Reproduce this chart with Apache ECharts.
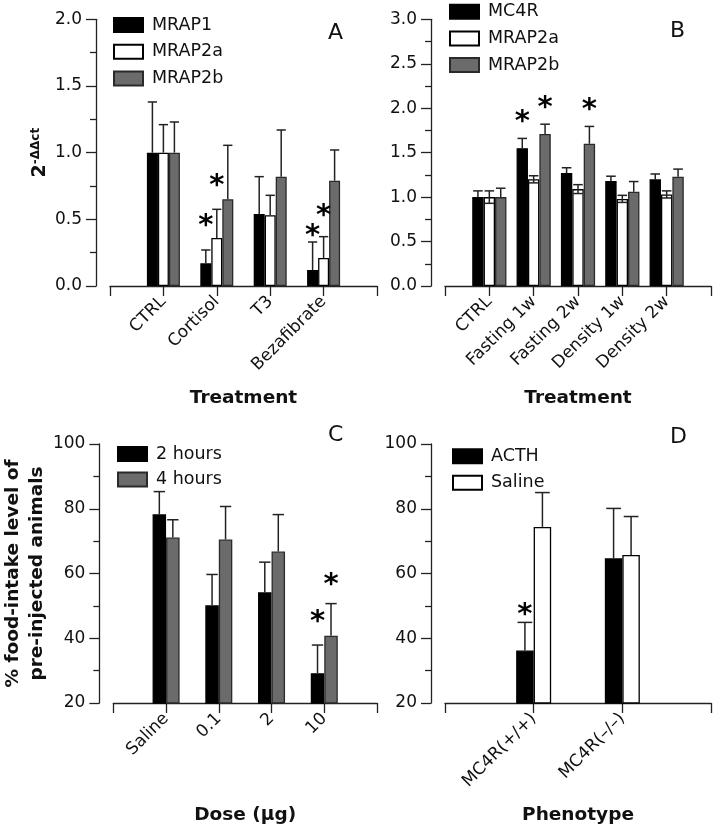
<!DOCTYPE html>
<html>
<head>
<meta charset="utf-8">
<script src="https://cdn.jsdelivr.net/npm/echarts@6/dist/echarts.min.js"></script>
<style>
html,body{margin:0;padding:0;background:#fff;}
#chart{width:714px;height:826px;}
</style>
</head>
<body>
<div id="chart"></div>
<script>
// ---------- Data ----------
// Panel A
const catsA = ['CTRL', 'Cortisol', 'T3', 'Bezafibrate'];
const mrap1A = [1.00, 0.17, 0.54, 0.12];
const mrap1AErr = [0.38, 0.10, 0.28, 0.21];
const mrap2aA = [1.00, 0.36, 0.53, 0.21];
const mrap2aAErr = [0.21, 0.215, 0.15, 0.16];
const mrap2bA = [1.00, 0.65, 0.82, 0.79];
const mrap2bAErr = [0.23, 0.405, 0.35, 0.23];
const mrap1AStars = [null, 0.495, null, 0.42];
const mrap2aAStars = [null, 0.795, null, 0.57];
const yTicksA = [0, 0.5, 1.0, 1.5, 2.0];

// Panel B
const catsB = ['CTRL', 'Fasting 1w', 'Fasting 2w', 'Density 1w', 'Density 2w'];
const mc4rB = [1.00, 1.55, 1.27, 1.18, 1.20];
const mc4rBErr = [0.07, 0.11, 0.06, 0.055, 0.06];
const mrap2aB = [1.00, 1.20, 1.09, 0.98, 1.03];
const mrap2aBErr = [0.07, 0.04, 0.05, 0.04, 0.04];
const mrap2bB = [1.00, 1.71, 1.60, 1.06, 1.23];
const mrap2bBErr = [0.10, 0.11, 0.195, 0.115, 0.085];
const mc4rBStars = [null, 1.905, null, null, null];
const mrap2bBStars = [null, 2.07, 2.04, null, null];
const yTicksB = [0, 0.5, 1.0, 1.5, 2.0, 2.5, 3.0];

// Panel C
const catsC = ['Saline', '0.1', '2', '10'];
const hours2C = [78.3, 50.2, 54.2, 29.2];
const hours2CErr = [7.0, 9.5, 9.3, 8.7];
const hours4C = [71.1, 70.5, 66.8, 40.8];
const hours4CErr = [5.5, 10.2, 11.4, 9.9];
const hours2CStars = [null, null, null, 46.7];
const hours4CStars = [null, null, null, 58.2];

// Panel D
const catsD = ['MC4R(+/+)', 'MC4R(–/–)'];
const acthD = [36.2, 64.7];
const acthDErr = [8.7, 15.4];
const salineD = [74.4, 65.7];
const salineDErr = [10.6, 11.9];
const acthDStars = [48.9, null];
const yTicksCD = [20, 40, 60, 80, 100];

// ---------- Styles ----------
const FONT = 'DejaVu Sans';
const TXT = '#111111';
const BLACK = {color: '#000000', borderColor: '#000000'};
const WHITE = {color: '#ffffff', borderColor: '#000000'};
const GRAY = {color: '#6b6b6b', borderColor: '#2a2a2a'};

const grids = [
  {left: 110, top: 19.3, width: 267, height: 266.7},
  {left: 445, top: 19.3, width: 266, height: 266.7},
  {left: 110, top: 444, width: 267, height: 266.7},
  {left: 445, top: 444, width: 266, height: 266.7}
];

function xAxisFor(gi, cats, name) {
  return {
    type: 'category', gridIndex: gi, boundaryGap: false,
    data: [''].concat(cats).concat(['']),
    axisLine: {lineStyle: {color: '#222', width: 1.3}},
    axisTick: {show: true, length: 10, interval: 0, lineStyle: {color: '#222', width: 1.3}},
    axisLabel: {interval: 0, rotate: 45, margin: 13, fontFamily: FONT, fontSize: 17, color: TXT},
    splitLine: {show: false},
    name: name, nameLocation: 'middle', nameGap: 103,
    nameTextStyle: {fontFamily: FONT, fontWeight: 'bold', fontSize: 18.5, color: TXT}
  };
}
function yAxisFor(gi, min, max, interval, decimals, name, nameGap, nameStyle) {
  return {
    type: 'value', gridIndex: gi, min: min, max: max, interval: interval, offset: 14,
    axisLine: {show: true, lineStyle: {color: '#222', width: 1.3}},
    axisTick: {show: true, length: 10, lineStyle: {color: '#222', width: 1.3}},
    minorTick: {show: true, splitNumber: 2, length: 6, lineStyle: {color: '#222', width: 1.3}},
    axisLabel: {margin: 14, fontFamily: FONT, fontSize: 17, color: TXT,
      formatter: v => v.toFixed(decimals)},
    splitLine: {show: false},
    name: name, nameLocation: 'middle', nameGap: nameGap, nameRotate: 90,
    nameTextStyle: nameStyle
  };
}

const series = [];
function addPanel(gi, cats, list, barWidth) {
  const n = list.length;
  list.forEach((s, k) => {
    series.push({
      type: 'bar', name: s.name, xAxisIndex: gi, yAxisIndex: gi,
      data: [null].concat(s.values).concat([null]),
      barWidth: barWidth, barGap: '0%',
      itemStyle: Object.assign({borderWidth: 1.3}, s.style),
      z: 2, animation: false
    });
    const off = (k - (n - 1) / 2) * barWidth;
    const errData = s.values.map((v, i) => [i + 1, v, s.err[i], s.errDown ? s.errDown[i] : 0]);
    series.push({
      type: 'custom', name: s.name + '_err', xAxisIndex: gi, yAxisIndex: gi, z: 3,
      animation: false, silent: true,
      data: errData,
      renderItem: function (params, api) {
        const c = api.value(0), v = api.value(1), up = api.value(2), dn = api.value(3);
        const p = api.coord([c, v]);
        const pu = api.coord([c, v + up]);
        const x = p[0] + off;
        const half = barWidth * 0.42;
        const st = {stroke: '#222', lineWidth: 1.5};
        const ch = [
          {type: 'line', shape: {x1: x, y1: p[1], x2: x, y2: pu[1]}, style: st},
          {type: 'line', shape: {x1: x - half, y1: pu[1], x2: x + half, y2: pu[1]}, style: st}
        ];
        if (dn > 0) {
          const pd = api.coord([c, v - dn]);
          ch.push({type: 'line', shape: {x1: x, y1: p[1], x2: x, y2: pd[1]}, style: st});
          ch.push({type: 'line', shape: {x1: x - half, y1: pd[1], x2: x + half, y2: pd[1]}, style: st});
        }
        return {type: 'group', children: ch};
      }
    });
    if (s.stars) {
      const starData = [];
      s.stars.forEach((y, i) => { if (y != null) starData.push([i + 1, y]); });
      series.push({
        type: 'custom', name: s.name + '_star', xAxisIndex: gi, yAxisIndex: gi, z: 4,
        animation: false, silent: true,
        data: starData,
        renderItem: function (params, api) {
          const p = api.coord([api.value(0), api.value(1)]);
          return {
            type: 'text',
            style: {x: p[0] + off, y: p[1] + 6, text: '*', fill: '#000',
              font: 'bold 29px "DejaVu Sans"', textAlign: 'center', textVerticalAlign: 'middle'}
          };
        }
      });
    }
  });
}

addPanel(0, catsA, [
  {name: 'MRAP1', values: mrap1A, err: mrap1AErr, stars: mrap1AStars, style: BLACK},
  {name: 'MRAP2a', values: mrap2aA, err: mrap2aAErr, stars: mrap2aAStars, style: WHITE},
  {name: 'MRAP2b', values: mrap2bA, err: mrap2bAErr, style: GRAY}
], 11);
addPanel(1, catsB, [
  {name: 'MC4R', values: mc4rB, err: mc4rBErr, stars: mc4rBStars, style: BLACK},
  {name: 'MRAP2a', values: mrap2aB, err: mrap2aBErr, errDown: mrap2aBErr, style: WHITE},
  {name: 'MRAP2b', values: mrap2bB, err: mrap2bBErr, stars: mrap2bBStars, style: GRAY}
], 11.4);
addPanel(2, catsC, [
  {name: '2 hours', values: hours2C, err: hours2CErr, stars: hours2CStars, style: BLACK},
  {name: '4 hours', values: hours4C, err: hours4CErr, stars: hours4CStars, style: GRAY}
], 13.5);
addPanel(3, catsD, [
  {name: 'ACTH', values: acthD, err: acthDErr, stars: acthDStars, style: BLACK},
  {name: 'Saline', values: salineD, err: salineDErr, style: WHITE}
], 17.5);

function legendFor(names, left, top, gap) {
  return {
    data: names, orient: 'vertical', left: left, top: top, padding: 0,
    itemWidth: 29, itemHeight: 14, itemGap: gap, icon: 'rect', selectedMode: false,
    textStyle: {fontFamily: FONT, fontSize: 17.5, color: TXT, padding: [0, 0, 0, 4]}
  };
}

const yNameA = {fontFamily: FONT, fontWeight: 'bold', color: TXT,
  rich: {b: {fontFamily: FONT, fontWeight: 'bold', fontSize: 19, color: TXT},
         s: {fontFamily: FONT, fontWeight: 'bold', fontSize: 12, color: TXT, verticalAlign: 'top', padding: [0, 0, 8, 0]}}};
const yNameC = {fontFamily: FONT, fontWeight: 'bold', fontSize: 18.5, color: TXT, lineHeight: 24};

const option = {
  backgroundColor: '#ffffff',
  animation: false,
  grid: grids,
  xAxis: [
    xAxisFor(0, catsA, 'Treatment'),
    xAxisFor(1, catsB, 'Treatment'),
    xAxisFor(2, catsC, 'Dose (μg)'),
    xAxisFor(3, catsD, 'Phenotype')
  ],
  yAxis: [
    yAxisFor(0, 0, 2, 0.5, 1, '{b|2}{s|-ΔΔct}', 46, yNameA),
    yAxisFor(1, 0, 3, 0.5, 1, '', 40, {}),
    yAxisFor(2, 20, 100, 20, 0, '% food-intake level of\npre-injected animals', 50, yNameC),
    yAxisFor(3, 20, 100, 20, 0, '', 40, {})
  ],
  legend: [
    legendFor(['MRAP1', 'MRAP2a', 'MRAP2b'], 113, 16, 8.7),
    legendFor(['MC4R', 'MRAP2a', 'MRAP2b'], 449, 2.7, 8.7),
    legendFor(['2 hours', '4 hours'], 117, 445, 7.5),
    legendFor(['ACTH', 'Saline'], 452, 447.3, 8.5)
  ],
  graphic: [
    {type: 'text', left: 328, top: 22, style: {text: 'A', font: '22px "DejaVu Sans"', fill: TXT}},
    {type: 'text', left: 670, top: 20, style: {text: 'B', font: '22px "DejaVu Sans"', fill: TXT}},
    {type: 'text', left: 328, top: 424, style: {text: 'C', font: '22px "DejaVu Sans"', fill: TXT}},
    {type: 'text', left: 670, top: 426, style: {text: 'D', font: '22px "DejaVu Sans"', fill: TXT}}
  ],
  series: series
};

const chart = echarts.init(document.getElementById('chart'), null, {renderer: 'canvas'});
chart.setOption(option);
</script>
</body>
</html>
